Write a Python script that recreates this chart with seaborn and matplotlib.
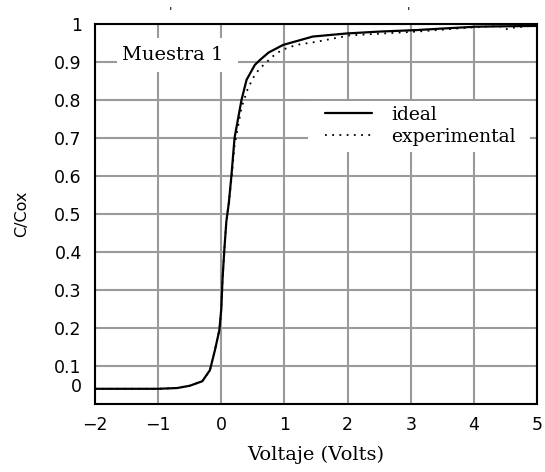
import matplotlib
matplotlib.use("Agg")
import matplotlib.pyplot as plt
from matplotlib.patches import Rectangle
import seaborn as sns
import pandas as pd

v_ideal = [-2, -1, -0.7, -0.5, -0.3, -0.18, -0.1, -0.03, 0.0, 0.02, 0.05, 0.08, 0.12, 0.16, 0.21,
           0.32, 0.40, 0.53, 0.61, 0.75, 0.98, 1.45, 1.98, 2.5, 3.09, 3.5, 4.04, 4.5, 5]
c_ideal = [0.04, 0.04, 0.042, 0.048, 0.06, 0.089, 0.142, 0.195, 0.25, 0.33, 0.41, 0.48, 0.53, 0.60, 0.70,
           0.80, 0.853, 0.892, 0.905, 0.925, 0.945, 0.967, 0.975, 0.98, 0.984, 0.988, 0.993, 0.994, 0.995]

v_exp = [-2, -1, -0.7, -0.5, -0.3, -0.18, -0.1, -0.03, 0.0, 0.02, 0.05, 0.08, 0.12, 0.16, 0.21, 0.32,
         0.42, 0.53, 0.61, 0.72, 0.87, 1.03, 1.19, 1.5, 2.03, 2.56, 3.09, 3.5, 3.88, 4.4, 4.5, 4.6, 4.9, 5]
c_exp = [0.04, 0.04, 0.042, 0.048, 0.06, 0.089, 0.142, 0.195, 0.25, 0.33, 0.41, 0.48, 0.53, 0.59, 0.68, 0.78,
         0.83, 0.866, 0.883, 0.90, 0.923, 0.936, 0.945, 0.953, 0.97, 0.975, 0.98, 0.985, 0.99, 0.995, 0.986,
         0.99, 0.995, 0.995]

x_ticks = [-2, -1, 0, 1, 2, 3, 4, 5]
x_labels = ["\u22122", "\u22121", "0", "1", "2", "3", "4", "5"]
y_ticks = [0, 0.1, 0.2, 0.3, 0.4, 0.5, 0.6, 0.7, 0.8, 0.9, 1]
y_labels = ["", "0.1", "0.2", "0.3", "0.4", "0.5", "0.6", "0.7", "0.8", "0.9", "1"]

sns.set_style("white")
plt.rcParams['font.family'] = ['DejaVu Sans']
plt.rcParams['text.color'] = 'black'
plt.rcParams['axes.labelcolor'] = 'black'
plt.rcParams['xtick.color'] = 'black'
plt.rcParams['ytick.color'] = 'black'
SERIF = "DejaVu Serif"

fig = plt.figure(figsize=(5.45, 4.72), dpi=100)
ax = fig.add_axes([95/545, 68/472, 442/545, 380/472])

df_i = pd.DataFrame({"V": v_ideal, "C": c_ideal})
df_e = pd.DataFrame({"V": v_exp, "C": c_exp})
sns.lineplot(data=df_i, x="V", y="C", ax=ax, color="black", lw=1.6, sort=False,
             label="ideal", zorder=4)
sns.lineplot(data=df_e, x="V", y="C", ax=ax, color="black", lw=1.3, sort=False,
             linestyle=(0, (1, 3)), label="experimental", zorder=3)

ax.set_xlim(-2, 5)
ax.set_ylim(0, 1)
ax.set_xticks(x_ticks)
ax.set_xticklabels(x_labels)
ax.set_yticks(y_ticks)
ax.set_yticklabels(y_labels)
ax.grid(True, color="#9a9a9a", lw=1.5, zorder=0)
ax.set_axisbelow(True)
ax.tick_params(length=0, labelsize=12.5, colors="black")
ax.tick_params(axis="y", pad=9.5)
ax.tick_params(axis="x", pad=9)
for s in ax.spines.values():
    s.set_color("black")
    s.set_linewidth(1.5)
    s.set_zorder(6)

# raised "0" label on the y axis
ax.annotate("0", xy=(0, 0), xycoords="axes fraction", xytext=(-9.5, 12), textcoords="offset points",
            ha="right", va="center", fontsize=12.5, color="black")

ax.set_xlabel("Voltaje (Volts)", fontsize=14, family=SERIF, labelpad=8, color="black")
ax.set_ylabel("C/Cox", fontsize=11.5, labelpad=18, color="black")

# white boxes hiding the grid behind the labels
ax.add_patch(Rectangle((-1.652, 0.874), 1.917, 0.089, facecolor="white", edgecolor="none", zorder=2))
ax.add_patch(Rectangle((1.373, 0.663), 3.516, 0.134, facecolor="white", edgecolor="none", zorder=2))

ax.text(-0.77, 0.918, "Muestra 1", fontsize=14, family=SERIF, ha="center", va="center", zorder=5,
        color="black")

leg = ax.legend(loc="upper left", bbox_to_anchor=((325 - 95) / 442, (404 - 106) / 380), frameon=False,
                prop={"family": SERIF, "size": 13.5}, handlelength=2.5,
                borderpad=0, borderaxespad=0, labelspacing=0.2, handletextpad=1.05)
leg.set_zorder(5)
for t in leg.get_texts():
    t.set_color("black")

fig.text(170/545, 1 - 13/472, "'", fontsize=9, ha="center", va="center")
fig.text(408/545, 1 - 13/472, "'", fontsize=9, ha="center", va="center")

fig.savefig("out.png", dpi=100)
